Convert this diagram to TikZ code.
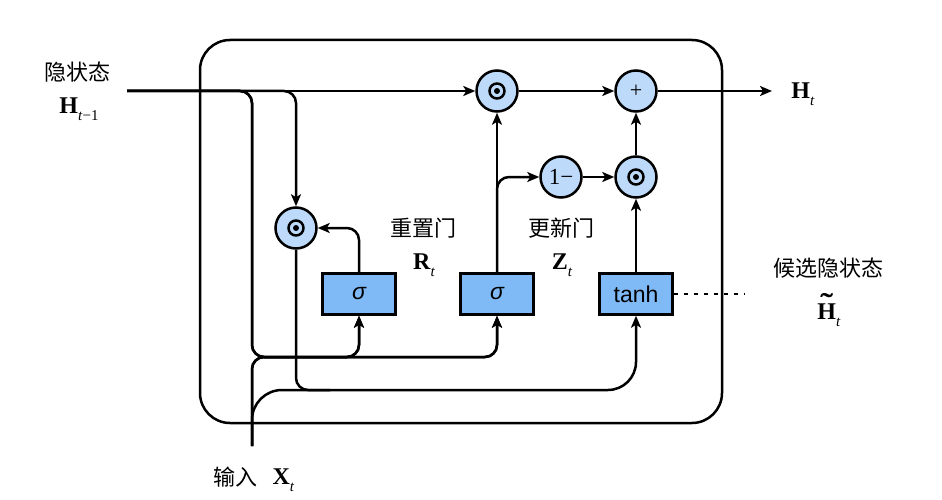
\documentclass[tikz,border=0pt]{standalone}
\usepackage{fontspec}
\setmainfont{Liberation Serif}
\newfontfamily\cjk{Noto Sans CJK SC}
\newfontfamily\sansf{Liberation Sans}
\usetikzlibrary{arrows.meta}
\definecolor{opfill}{RGB}{190,218,250}
\definecolor{gatefill}{RGB}{128,186,246}
\newcommand\vb[2]{\textbf{#1}\raisebox{-0.6ex}{\fontsize{15}{15}\selectfont #2}}
\newcommand\tld[1]{\ooalign{\textbf{#1}\cr\hidewidth\raisebox{0.26em}{\scalebox{1.6}[1.2]{\textbf{\char"02DC}}}\hidewidth\cr}}

\begin{document}
\begin{tikzpicture}[x=1pt,y=-1pt,line width=2.5pt,
        arr/.style={-{Stealth[length=12pt,width=10pt,inset=3pt]}},
        op/.style={circle,draw,fill=opfill,minimum size=41pt,inner sep=0pt},
        odot/.style={op,path picture={
            \draw[black,line width=2.5pt] (path picture bounding box.center) circle (7.5pt);
            \fill[black] (path picture bounding box.center) circle (3pt);}},
        gate/.style={draw,fill=gatefill,minimum width=73pt,minimum height=41pt,inner sep=0pt},
        lbl/.style={font=\cjk\fontsize{22}{26}\selectfont},
        sym/.style={font=\fontsize{24}{28}\selectfont}]
    \useasboundingbox (0,0) rectangle (942,500);
    % cell
    \draw[rounded corners=30pt] (200,40) rectangle (722,423);
    % operators and gates
    \node[op,font=\fontsize{22}{22}\selectfont] (P) at (636,91) {+};
    \node[odot] (M1) at (497,91) {};
    \node[op,font=\fontsize{23}{23}\selectfont] (N) at (561,177) {1−};
    \node[odot] (M2) at (636,177) {};
    \node[odot] (M3) at (296,228) {};
    \node[gate,font=\sansf\itshape\fontsize{23}{24}\selectfont] (S1) at (359,294) {σ};
    \node[gate,font=\sansf\itshape\fontsize{23}{24}\selectfont] (S2) at (497,294) {σ};
    \node[gate,font=\sansf\fontsize{23}{24}\selectfont] (T) at (636,294) {tanh};
    \coordinate (Hin) at (127,91);
    \coordinate (Hout) at (772,91);
    \coordinate (Xin) at (252,446);
    \coordinate (D) at (745,294);
    % hidden state
    \draw[arr] (Hin) -- (M1);
    \draw[arr,rounded corners=12pt] (Hin) -| (M3);
    \draw[arr,rounded corners=12pt] (Hin) -| (252,357) -| (S1.south);
    \draw[arr,rounded corners=12pt] (Hin) -| (252,357) -| (S2.south);
    % input
    \draw[arr,rounded corners=12pt] (Xin) -- (252,357) -| (S1.south);
    \draw[arr,rounded corners=12pt] (Xin) -- (252,357) -| (S2.south);
    \draw[rounded corners=30pt] (Xin) -- (252,390) -- (330,390);
    \draw[arr] (M3.south) [rounded corners=12pt] -- (296,390) [rounded corners=28pt] -| (T.south);
    % gates
    \draw[arr,rounded corners=12pt] (S1.north) |- (M3.east);
    \draw[arr] (S2.north) -- (M1.south);
    \draw[arr,rounded corners=12pt] (S2.north) |- (N.west);
    \draw[arr] (N) -- (M2);
    \draw[arr] (T.north) -- (M2.south);
    \draw[arr] (M2) -- (P);
    \draw[arr] (M1) -- (P);
    \draw[arr] (P) -- (Hout);
    \draw[dash pattern=on 4pt off 6pt] (T.east) -- (D);
    % labels
    \node[lbl] (LH) at (77,72) {隐状态};
    \node[sym] (LHs) at (79,109) {\vb{H}{\textit{t}−1}};
    \node[sym] (LHt) at (803,94) {\vb{H}{\textit{t}}};
    \node[lbl] (LR) at (423,228) {重置门};
    \node[sym] (LRs) at (424,265) {\vb{R}{\textit{t}}};
    \node[lbl] (LZ) at (561,228) {更新门};
    \node[sym] (LZs) at (562,265) {\vb{Z}{\textit{t}}};
    \node[lbl] (LC) at (828,268) {候选隐状态};
    \node[sym] (LCs) at (829,315) {\vb{\tld{H}}{\textit{t}}};
    \node[lbl,anchor=east] (LX) at (262,477) {输入};
    \node[sym,anchor=west] (LXs) at (268,480) {\vb{X}{\textit{t}}};
\end{tikzpicture}
\end{document}
